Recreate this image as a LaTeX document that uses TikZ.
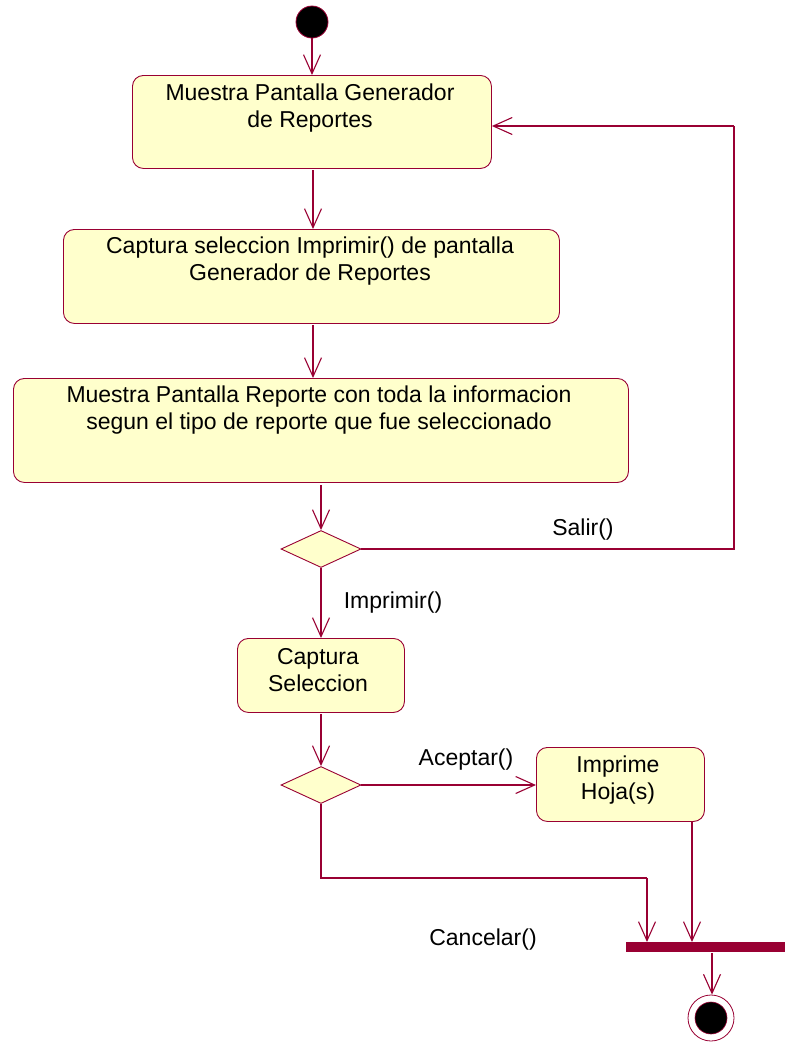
\documentclass[tikz,border=0pt]{standalone}
\usepackage{fontspec}
\setmainfont{Liberation Sans}
\usetikzlibrary{arrows.meta,shapes.geometric}
\definecolor{umlline}{HTML}{990033}
\definecolor{umlfill}{HTML}{FFFFCC}
\begin{document}
\begin{tikzpicture}[x=1pt,y=-1pt,
  every node/.style={font=\fontsize{23}{27}\selectfont},
  actbox/.style={draw=umlline, fill=umlfill, line width=0.9pt, rounded corners=11pt,
    anchor=north west, inner sep=0pt},
  boxtext/.style={anchor=north, align=center, inner sep=0pt},
  decision/.style={draw=umlline, fill=umlfill, line width=0.9pt, diamond, aspect=2.2,
    minimum width=80pt, minimum height=37pt, inner sep=0pt},
  flow/.style={draw=umlline, line width=1.1pt, -{Straight Barb[length=19pt,width=17pt,line width=1.1pt]}},
  plain/.style={draw=umlline, line width=1.1pt},
  guard/.style={inner sep=0pt}
]
\useasboundingbox (0,0) rectangle (785,1042);

% initial state
\node[circle, fill=black, draw=umlline, line width=0.8pt, minimum size=32pt, inner sep=0pt] (start) at (312,22) {};

% activities
\node[actbox, minimum width=359pt, minimum height=93pt] (a1) at (132,75) {};
\node[boxtext] (t1) at (310,84) {Muestra Pantalla Generador\\de Reportes};

\node[actbox, minimum width=496pt, minimum height=94pt] (a2) at (63,229) {};
\node[boxtext] (t2) at (310,237) {Captura seleccion Imprimir() de pantalla\\Generador de Reportes};

\node[actbox, minimum width=615pt, minimum height=104pt] (a3) at (13,378) {};
\node[boxtext] (t3) at (319,386) {Muestra Pantalla Reporte con toda la informacion\\segun el tipo de reporte que fue seleccionado};

\node[decision] (d1) at (321,549) {};

\node[actbox, minimum width=167pt, minimum height=74pt] (a4) at (237,638) {};
\node[boxtext] (t4) at (318,648) {Captura\\Seleccion};

\node[decision] (d2) at (321,785) {};

\node[actbox, minimum width=168pt, minimum height=74pt] (a5) at (536,747) {};
\node[boxtext] (t5) at (618,756) {Imprime\\Hoja(s)};

% synchronisation bar
\node[fill=umlline, minimum width=159pt, minimum height=10pt, inner sep=0pt, anchor=north west] (bar) at (626,942) {};

% final state
\node[circle, draw=umlline, fill=white, line width=0.8pt, minimum size=46pt, inner sep=0pt] (final) at (711,1018) {};
\node[circle, fill=black, draw=umlline, line width=0.6pt, minimum size=32pt, inner sep=0pt] (finalin) at (final.center) {};

% helper points for the routed connectors
\coordinate (loopA) at (734,549);
\coordinate (loopB) at (734,126);
\coordinate (canA) at (321,878);
\coordinate (canB) at (647,878);

% transitions
\draw[flow] (start.south) -- (a1.north -| start.south);
\draw[flow] (313,170) -- (a2.north -| 313,0);
\draw[flow] (313,325) -- (a3.north -| 313,0);
\draw[flow] (321,485) -- (d1.north);
\draw[plain] (d1.east) -- (loopA) -- (loopB);
\draw[flow] (loopB) -- (a1.east |- loopB);
\draw[flow] (d1.south) -- (a4.north -| d1.south);
\draw[flow] (321,714) -- (d2.north);
\draw[flow] (d2.east) -- (a5.west |- d2.east);
\draw[plain] (d2.south) -- (canA) -- (canB);
\draw[flow] (canB) -- (bar.north -| canB);
\draw[flow] (692,822) -- (bar.north -| 692,0);
\draw[flow] (712,953) -- (final.north -| 712,0);

% guard labels
\node[guard] (gSalir) at (583,530) {Salir()};
\node[guard] (gImp) at (393,603) {Imprimir()};
\node[guard] (gAcep) at (466,760) {Aceptar()};
\node[guard] (gCan) at (483,940) {Cancelar()};
\end{tikzpicture}
\end{document}
